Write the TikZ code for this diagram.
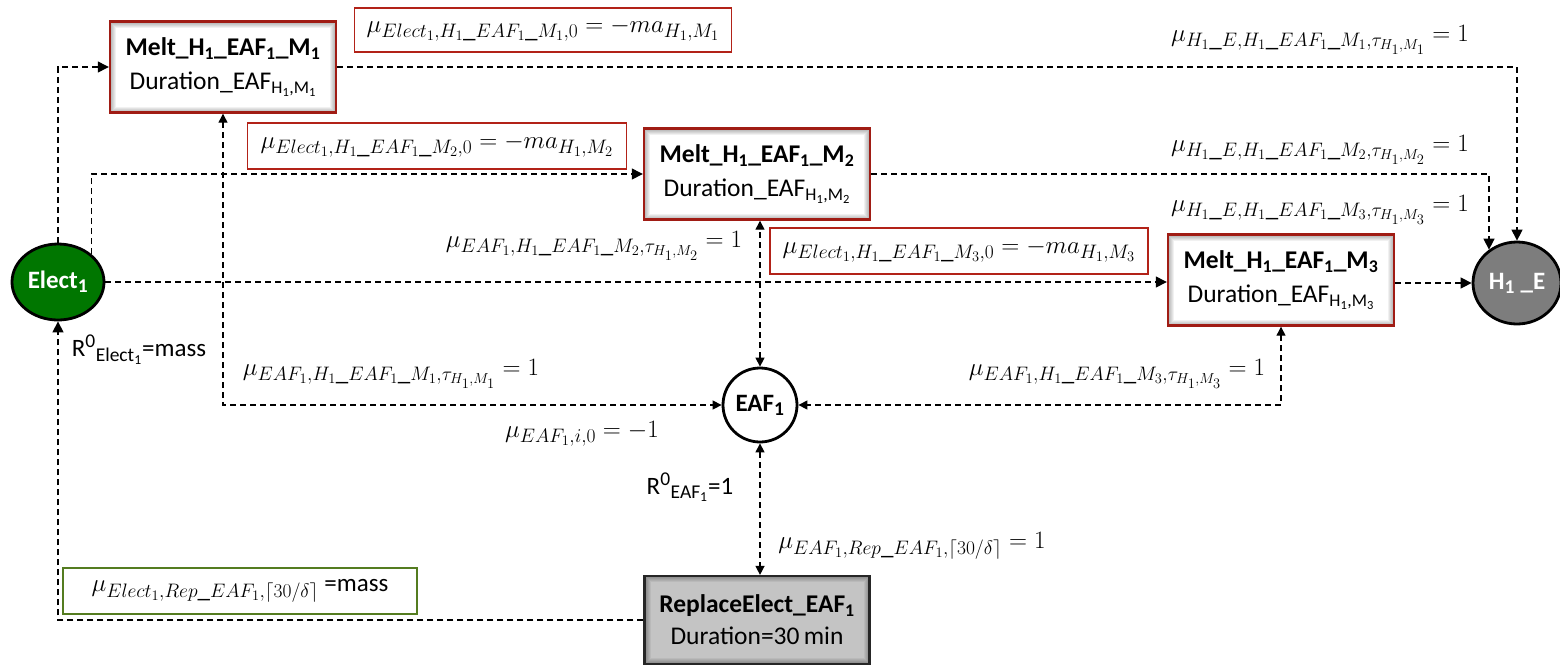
\RequirePackage{fix-cm}
\documentclass[tikz,border=0pt]{standalone}
\usepackage{fontspec}
\setmainfont{Carlito}
\usetikzlibrary{arrows.meta,shapes.geometric,calc}
\DeclareMathSizes{25}{25}{19.5}{14.5}

\definecolor{meltred}{RGB}{160,28,20}
\definecolor{labred}{RGB}{178,34,24}
\definecolor{elgreen}{RGB}{0,118,0}
\definecolor{labgreen}{RGB}{84,124,32}
\definecolor{hgray}{RGB}{125,125,125}
\definecolor{repgray}{RGB}{196,196,196}

\tikzset{
  bevel/.style={path picture={
    \foreach \w in {2,4,...,12}
      \draw[black, opacity=0.055, line width=\w pt]
        (path picture bounding box.south west) rectangle (path picture bounding box.north east);}},
  meltbox/.style={draw=meltred, line width=2.4pt, minimum width=226pt, minimum height=91pt,
    align=center, inner sep=0pt, fill=white, bevel,
    font=\fontsize{25.5}{34}\selectfont},
  repbox/.style={draw=black!85, line width=2.2pt, minimum width=225pt, minimum height=88pt,
    align=center, inner sep=0pt, fill=repgray, bevel,
    font=\fontsize{25.5}{32}\selectfont},
  resnode/.style={ellipse, draw=black, line width=2.8pt, minimum width=92pt, minimum height=76pt,
    inner sep=0pt, font=\bfseries\fontsize{25}{28}\selectfont},
  labbox/.style={draw=labred, line width=1.7pt, inner sep=3pt, font=\fontsize{25}{29}\selectfont},
  greenbox/.style={draw=labgreen, line width=1.9pt, inner sep=3pt, font=\fontsize{25}{29}\selectfont},
  mathlab/.style={inner sep=0pt, font=\fontsize{25}{29}\selectfont},
  textlab/.style={inner sep=0pt, font=\fontsize{25}{28}\selectfont},
  flow/.style={line width=1.3pt, dash pattern=on 6pt off 4pt,
    -{Triangle[length=11pt,width=11pt]}},
  twoway/.style={line width=1.3pt, dash pattern=on 6pt off 4pt,
    {Triangle[length=9pt,width=9pt]}-{Triangle[length=9pt,width=9pt]}},
}

\begin{document}
\begin{tikzpicture}[x=1pt,y=-1pt]
\useasboundingbox (0,0) rectangle (1560,665);

% resources
\node[resnode, fill=elgreen, text=white] (el) at (58,282) {Elect\textsubscript{1}};
\node[resnode, fill=hgray, text=white, minimum width=88pt, minimum height=82pt] (h) at (1517,283) {H\textsubscript{1} \_E};
\node[resnode, circle, fill=white, minimum size=74pt] (eaf) at (760,405) {EAF\textsubscript{1}};

% melting tasks
\node[meltbox] (m1) at (223,67) {\textbf{Melt\_H\textsubscript{1}\_EAF\textsubscript{1}\_M\textsubscript{1}}\\Duration\_EAF\textsubscript{H\textsubscript{1},M\textsubscript{1}}};
\node[meltbox] (m2) at (757,174) {\textbf{Melt\_H\textsubscript{1}\_EAF\textsubscript{1}\_M\textsubscript{2}}\\Duration\_EAF\textsubscript{H\textsubscript{1},M\textsubscript{2}}};
\node[meltbox] (m3) at (1281,280) {\textbf{Melt\_H\textsubscript{1}\_EAF\textsubscript{1}\_M\textsubscript{3}}\\Duration\_EAF\textsubscript{H\textsubscript{1},M\textsubscript{3}}};

% electrode replacement
\node[repbox] (rep) at (757,620) {\textbf{ReplaceElect\_EAF\textsubscript{1}}\\Duration=30\,min};

% connectors
\draw[flow] (el.north) |- (m1.west);
\draw[flow] (el.40) |- (m2.west);
\draw[flow] (el.east) -- (el.east -| m3.west);
\draw[flow] (m1.east) -| (h.north);
\draw[flow] (m2.east) -| (h.130);
\draw[flow] (m3.east |- h.west) -- (h.west);
\draw[twoway] (m1.south) |- (eaf.west);
\draw[twoway] (eaf.north) -- (eaf.north |- m2.south);
\draw[twoway] (m3.south) |- (eaf.east);
\draw[twoway] (eaf.south) -- (eaf.south |- rep.north);
\draw[flow] (rep.west) -| (el.south);

% boxed coefficients
\node[labbox, minimum width=377pt, minimum height=44pt] (l1) at (543,30)
  {$\mu_{Elect_1,H_1\_EAF_1\_M_1,0} = -ma_{H_1,M_1}$};
\node[labbox, minimum width=379pt, minimum height=46pt] (l2) at (437,146)
  {$\mu_{Elect_1,H_1\_EAF_1\_M_2,0} = -ma_{H_1,M_2}$};
\node[labbox, minimum width=378pt, minimum height=46pt] (l3) at (959,251)
  {$\mu_{Elect_1,H_1\_EAF_1\_M_3,0} = -ma_{H_1,M_3}$};
\node[greenbox, minimum width=354pt, minimum height=46pt] (lg) at (240,591)
  {$\mu_{Elect_1,Rep\_EAF_1,\lceil 30/\delta\rceil}$ =mass};

% free coefficients
\node[mathlab] (c1) at (1320,40) {$\mu_{H_1\_E,H_1\_EAF_1\_M_1,\tau_{H_1,M_1}} = 1$};
\node[mathlab] (c2) at (1320,150) {$\mu_{H_1\_E,H_1\_EAF_1\_M_2,\tau_{H_1,M_2}} = 1$};
\node[mathlab] (c3) at (1320,210) {$\mu_{H_1\_E,H_1\_EAF_1\_M_3,\tau_{H_1,M_3}} = 1$};
\node[mathlab] (c4) at (594,246) {$\mu_{EAF_1,H_1\_EAF_1\_M_2,\tau_{H_1,M_2}} = 1$};
\node[mathlab] (c5) at (391,374) {$\mu_{EAF_1,H_1\_EAF_1\_M_1,\tau_{H_1,M_1}} = 1$};
\node[mathlab] (c6) at (1117,374) {$\mu_{EAF_1,H_1\_EAF_1\_M_3,\tau_{H_1,M_3}} = 1$};
\node[mathlab] (c7) at (582,434) {$\mu_{EAF_1,i,0} = -1$};
\node[mathlab] (c8) at (912,546) {$\mu_{EAF_1,Rep\_EAF_1,\lceil 30/\delta\rceil} = 1$};
\node[textlab] (r1) at (139,350) {R\textsuperscript{0}\textsubscript{Elect\textsubscript{1}}=mass};
\node[textlab] (r2) at (690,487) {R\textsuperscript{0}\textsubscript{EAF\textsubscript{1}}=1};
\end{tikzpicture}
\end{document}
